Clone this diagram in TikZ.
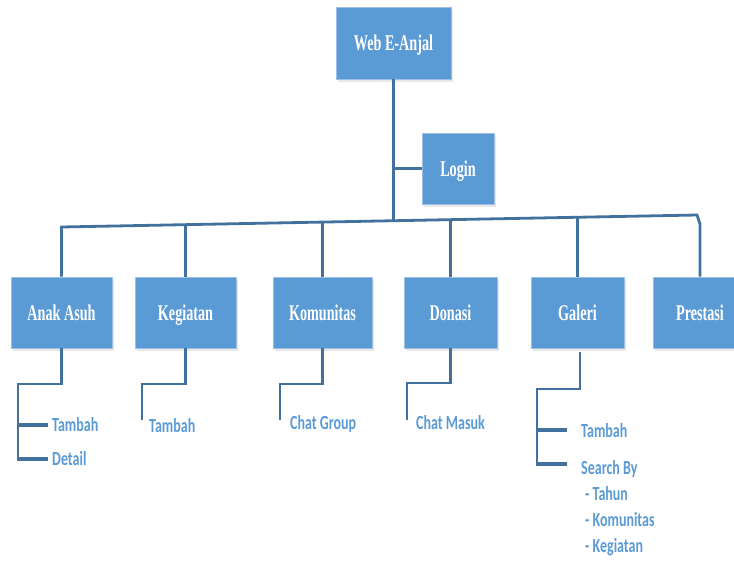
\documentclass[tikz,border=0pt]{standalone}
\usepackage{fontspec}
\usetikzlibrary{shadows}
\newfontfamily\boxfont[FakeStretch=0.63]{Liberation Serif}
\newfontfamily\labfont[FakeStretch=0.7]{Carlito}
\definecolor{boxblue}{HTML}{5B9BD5}
\definecolor{boxedge}{HTML}{9DBFE3}
\definecolor{connblue}{HTML}{41719C}
\definecolor{labblue}{HTML}{5B9BD5}
\tikzset{
  mbox/.style={rectangle, fill=boxblue, draw=boxedge, line width=0.6pt,
    drop shadow={opacity=0.18, shadow xshift=1.5pt, shadow yshift=-2.5pt},
    text=white, font=\boxfont\bfseries\fontsize{22.5}{27}\selectfont,
    text height=15pt, text depth=0pt, inner sep=0pt},
  conn/.style={draw=connblue, line width=2.8pt, line join=miter},
  stub/.style={draw=connblue, line width=4pt},
  lab/.style={anchor=base west, text=labblue, inner sep=0pt,
    font=\labfont\bfseries\fontsize{20}{24}\selectfont},
}
\begin{document}
\begin{tikzpicture}[x=1pt, y=-1pt]
\path[use as bounding box] (0,0) rectangle (734,560);
\clip (0,0) rectangle (734,560);

% top boxes
\node[mbox, minimum width=115pt, minimum height=72pt] (web) at (393.5,43) {Web E-Anjal};
\node[mbox, minimum width=72pt, minimum height=71pt] (login) at (458,168.5) {Login};

% second row
\node[mbox, minimum width=101pt, minimum height=71pt] (anak) at (61.5,312.5) {Anak Asuh};
\node[mbox, minimum width=101pt, minimum height=71pt] (keg) at (185.5,312.5) {Kegiatan};
\node[mbox, minimum width=99pt, minimum height=71pt] (kom) at (322.5,312.5) {Komunitas};
\node[mbox, minimum width=93pt, minimum height=71pt] (don) at (450.5,312.5) {Donasi};
\node[mbox, minimum width=93pt, minimum height=71pt] (gal) at (577.5,312.5) {Galeri};
\node[mbox, minimum width=93pt, minimum height=71pt] (pres) at (700,312.5) {Prestasi};

% bar coordinates
\coordinate (bA) at (61.5,227);
\coordinate (bK) at (185.5,224.7);
\coordinate (bKo) at (322.5,222.1);
\coordinate (bW) at (393.5,220.7);
\coordinate (bL) at (393.5,168.5);
\coordinate (bD) at (450.5,219.7);
\coordinate (bG) at (577.5,217.3);
\coordinate (bE) at (697,215);
\coordinate (bP) at (700,224);

% main connectors
\draw[conn] (web.south) -- (bW);
\draw[conn] (bL) -- (login.west);
\draw[conn] (anak.north) -- (bA) -- (bE) -- (bP) -- (pres.north);
\draw[conn] (keg.north) -- (bK);
\draw[conn] (kom.north) -- (bKo);
\draw[conn] (don.north) -- (bD);
\draw[conn] (gal.north) -- (bG);

% labels
\node[lab] (aT) at (52,431) {Tambah};
\node[lab] (aD) at (52,465) {Detail};
\node[lab] (kT) at (149,432) {Tambah};
\node[lab] (cG) at (290,429) {Chat Group};
\node[lab] (cM) at (416,429) {Chat Masuk};
\node[lab] (gT) at (581,437) {Tambah};
\node[lab] (gS) at (581,474) {Search By};
\node[lab] (g1) at (585,500) {- Tahun};
\node[lab] (g2) at (585,526) {- Komunitas};
\node[lab] (g3) at (585,552) {- Kegiatan};

% sub connectors
\coordinate (a1) at (61.5,384);
\coordinate (a2) at (18,384);
\coordinate (a3) at (18,459);
\coordinate (a4) at (18,425);
\draw[conn] (anak.south) -- (a1) -- (a2) -- (a3);
\draw[stub] ([xshift=-1.4pt]a3) -- (48,459);
\draw[stub] ([xshift=-1.4pt]a4) -- (48,425);

\coordinate (k1) at (185.5,384);
\coordinate (k2) at (142,384);
\coordinate (k3) at (142,420);
\draw[conn] (keg.south) -- (k1) -- (k2) -- (k3);

\coordinate (c1) at (322.5,384);
\coordinate (c2) at (280,384);
\coordinate (c3) at (280,420);
\draw[conn] (kom.south) -- (c1) -- (c2) -- (c3);

\coordinate (d1) at (450.5,383);
\coordinate (d2) at (407,383);
\coordinate (d3) at (407,420);
\draw[conn] (don.south) -- (d1) -- (d2) -- (d3);

\coordinate (g0) at (580,352);
\coordinate (gg1) at (580,389);
\coordinate (gg2) at (537,389);
\coordinate (gg3) at (537,464);
\coordinate (gg4) at (537,430);
\draw[conn] (g0) -- (gg1) -- (gg2) -- (gg3);
\draw[stub] ([xshift=-1.4pt]gg3) -- (567,464);
\draw[stub] ([xshift=-1.4pt]gg4) -- (567,430);
\end{tikzpicture}
\end{document}
